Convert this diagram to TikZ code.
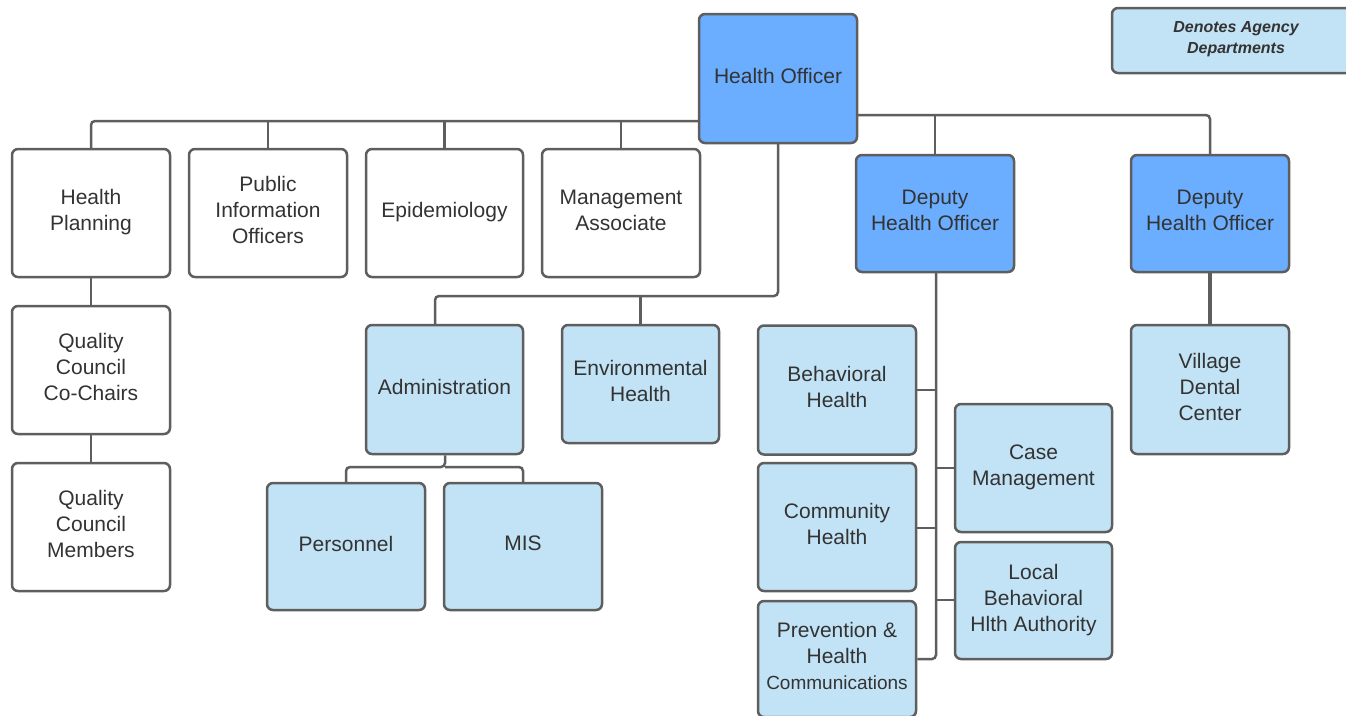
\documentclass[tikz,border=0pt]{standalone}
\usepackage{fontspec}
\setmainfont{Liberation Sans}
\usetikzlibrary{backgrounds}
\definecolor{edge}{HTML}{5E5E5E}
\definecolor{ink}{HTML}{333333}
\definecolor{topblue}{HTML}{6BAEFF}
\definecolor{deptblue}{HTML}{C2E3F5}
\begin{document}
\begin{tikzpicture}[x=1pt,y=-1pt,
  box/.style={draw=edge, line width=2.5pt, rounded corners=6pt, align=center,
    text=ink, inner sep=0pt, text depth=6pt, font=\fontsize{21}{26}\selectfont},
  wbox/.style={box, fill=white},
  lbox/.style={box, fill=deptblue},
  dbox/.style={box, fill=topblue},
  link/.style={draw=edge, line width=2.5pt, rounded corners=4pt}]
\useasboundingbox (0,0) rectangle (1346,715);
\clip (0,0) rectangle (1346,715);

% legend
\node[lbox, minimum width=248pt, minimum height=65pt,
  font=\fontsize{16}{21}\selectfont\bfseries\itshape] (legend) at (1236,40.5)
  {Denotes Agency\\Departments};

% top level
\node[dbox, minimum width=158pt, minimum height=129pt] (ho) at (778,78.5) {Health Officer};

% staff row
\node[wbox, minimum width=158pt, minimum height=128pt] (hp)  at (91,213)  {Health\\Planning};
\node[wbox, minimum width=158pt, minimum height=128pt] (pio) at (268,213) {Public\\Information\\Officers};
\node[wbox, minimum width=157pt, minimum height=128pt] (epi) at (444.5,213) {Epidemiology};
\node[wbox, minimum width=158pt, minimum height=128pt] (ma)  at (621,213) {Management\\Associate};

% quality council
\node[wbox, minimum width=158pt, minimum height=128pt] (qc)  at (91,370) {Quality\\Council\\Co-Chairs};
\node[wbox, minimum width=158pt, minimum height=128pt] (qcm) at (91,527) {Quality\\Council\\Members};

% administration branch
\node[lbox, minimum width=157pt, minimum height=129pt] (adm) at (444.5,389.5) {Administration};
\node[lbox, minimum width=157pt, minimum height=118pt] (env) at (640.5,384) {Environmental\\Health};
\node[lbox, minimum width=158pt, minimum height=127pt] (per) at (346,546.5) {Personnel};
\node[lbox, minimum width=158pt, minimum height=127pt] (mis) at (523,546.5) {MIS};

% deputies
\node[dbox, minimum width=158pt, minimum height=117pt] (dep1) at (935,213.5) {Deputy\\Health Officer};
\node[dbox, minimum width=158pt, minimum height=117pt] (dep2) at (1210,213.5) {Deputy\\Health Officer};

% deputy 1 departments
\node[lbox, minimum width=158pt, minimum height=129pt] (bh)  at (837,390) {Behavioral\\Health};
\node[lbox, minimum width=158pt, minimum height=128pt] (chl) at (837,527) {Community\\Health};
\node[lbox, minimum width=158pt, minimum height=116pt] (prv) at (837,659)
  {Prevention \&\\Health\\{\fontsize{19}{25}\selectfont Communications}};
\node[lbox, minimum width=157pt, minimum height=128pt] (cm)  at (1033.5,468) {Case\\Management};
\node[lbox, minimum width=157pt, minimum height=117pt] (lb)  at (1033.5,600.5) {Local\\Behavioral\\Hlth Authority};

% deputy 2 department
\node[lbox, minimum width=158pt, minimum height=129pt] (vdc) at (1210,389.5) {Village\\Dental\\Center};

% bus coordinates
\coordinate (busL) at (699,121);
\coordinate (busR) at (857,115);
\coordinate (hoDown) at (778,143);
\coordinate (admBus) at (778,296);
\coordinate (admDrop) at (435,296);
\coordinate (admFork) at (445,467);
\coordinate (trunk) at (936,272);
\coordinate (trunkEnd) at (936,659);

% connectors, kept behind the boxes
\begin{pgfonlayer}{background}
\draw[link] (busL) -| (hp.north);
\draw[link] (busL -| pio.north) -- (pio.north);
\draw[link] (busL -| epi.north) -- (epi.north);
\draw[link] (busL -| ma.north) -- (ma.north);

\draw[link] (busR) -| (dep2.north);
\draw[link] (busR -| dep1.north) -- (dep1.north);

\draw[link] (hp.south) -- (qc.north);
\draw[link] (qc.south) -- (qcm.north);

\draw[link] (hoDown) -- (admBus) -- (admDrop) -- (admDrop |- adm.north);
\draw[link] (admBus -| env.north) -- (env.north);

\draw[link] (adm.south -| admFork) -- (admFork) -| (per.north);
\draw[link] (admFork) -| (mis.north);

\draw[link] (trunk) -- (trunkEnd) -- (prv.east |- trunkEnd);
\draw[link] (trunk |- 0,390) -- (bh.east |- 0,390);
\draw[link] (trunk |- 0,528) -- (chl.east |- 0,528);
\draw[link] (trunk |- 0,468) -- (cm.west |- 0,468);
\draw[link] (trunk |- 0,600) -- (lb.west |- 0,600);

\draw[link, line width=3.5pt] (dep2.south) -- (vdc.north);
\end{pgfonlayer}
\end{tikzpicture}
\end{document}
